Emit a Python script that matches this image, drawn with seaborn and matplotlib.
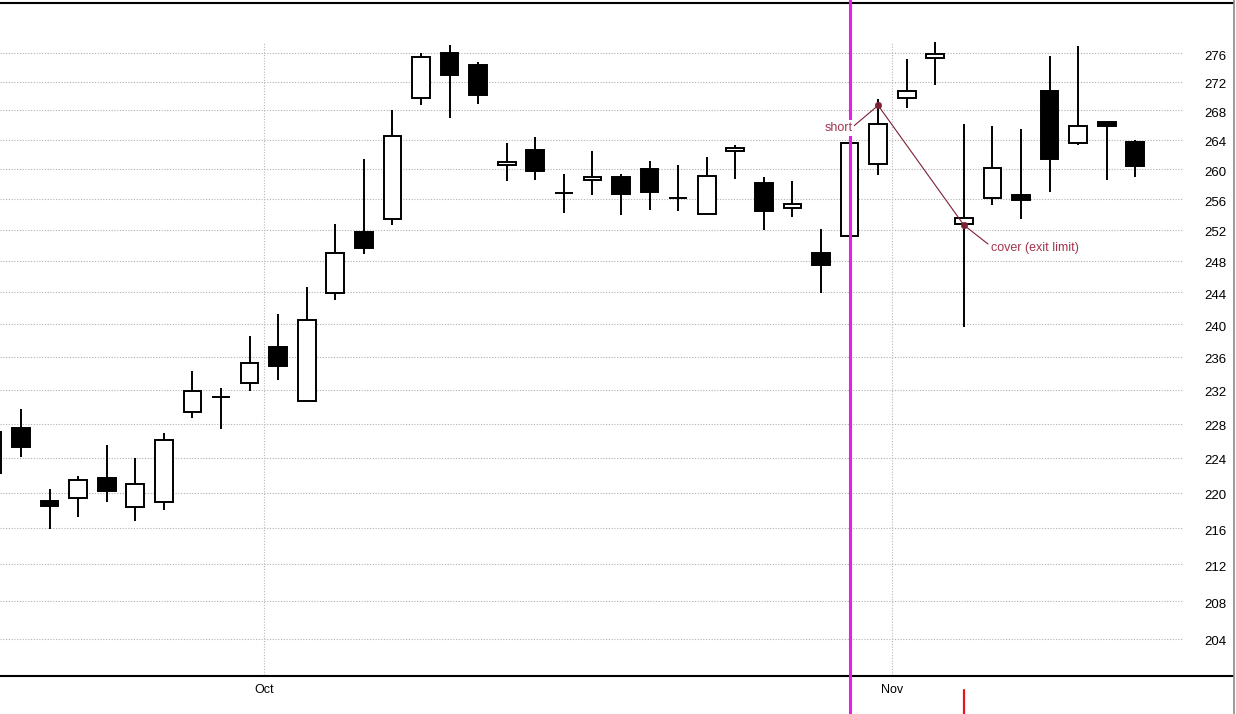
import numpy as np
import matplotlib
matplotlib.use('Agg')
import matplotlib.pyplot as plt
from matplotlib.lines import Line2D
from matplotlib.ticker import NullLocator
from matplotlib.transforms import ScaledTranslation
import seaborn as sns

sns.set_style('white')
plt.rcParams['font.family'] = ['Liberation Sans', 'DejaVu Sans']

# ── 데이터 (일봉, 인덱스 -1 ~ 39) ───────────────────────────
opens  = [222.3, 227.5, 219.1, 219.4, 221.7, 218.4, 218.9, 229.4, 231.2, 232.8,
          237.25, 230.65, 243.85, 251.65, 253.45, 269.8, 276.0, 274.4, 260.5, 262.6,
          256.8, 258.6, 259.0, 260.0, 256.2, 254.0, 262.4, 258.1, 254.9, 249.05,
          251.2, 260.75, 269.75, 275.3, 252.7, 256.1, 256.5, 270.75, 263.6, 266.4,
          263.7]
highs  = [227.4, 229.7, 220.45, 221.9, 225.5, 224.0, 226.9, 234.3, 232.2, 238.6,
          241.25, 244.7, 252.7, 261.4, 268.1, 276.1, 277.2, 274.8, 263.5, 264.4,
          259.3, 262.4, 259.3, 261.05, 260.5, 261.7, 263.3, 259.0, 258.4, 252.05,
          263.6, 269.6, 275.2, 277.6, 266.2, 265.9, 265.5, 275.7, 277.1, 266.4,
          263.9]
lows   = [221.8, 224.15, 215.95, 217.3, 219.0, 216.8, 218.1, 228.6, 227.4, 231.9,
          233.2, 230.65, 243.0, 248.8, 252.6, 268.8, 267.0, 268.9, 258.4, 258.5,
          254.2, 256.5, 253.95, 254.6, 254.4, 254.0, 258.7, 252.0, 253.7, 243.85,
          251.2, 259.25, 268.3, 271.5, 239.7, 255.2, 253.4, 256.95, 263.3, 258.6,
          258.9]
closes = [227.0, 225.3, 218.45, 221.5, 220.15, 221.0, 226.1, 231.9, 231.2, 235.3,
          234.9, 240.5, 249.05, 249.65, 264.55, 275.5, 273.0, 270.1, 260.9, 259.8,
          256.8, 259.0, 256.7, 257.0, 256.2, 259.1, 262.8, 254.4, 255.4, 247.5,
          263.6, 266.15, 270.75, 275.9, 253.55, 260.1, 255.9, 261.4, 265.8, 265.8,
          260.4]
positions = np.arange(-1, 40)

month_pos    = [8.5, 30.5]
month_labels = ['Oct', 'Nov']
price_ticks  = list(range(204, 277, 4))

signal_pos = 29          # 보라색 세로선
exit_pos   = 33          # 하단 빨간 표시
trade_pos    = [30, 33]
trade_price  = [268.7, 252.6]
trade_labels = ['short', 'cover (exit limit)']

# ── 그림 ─────────────────────────────────────────────────
fig = plt.figure(figsize=(12.36, 7.14), dpi=100)
ax = fig.add_axes([0, (714 - 675.5) / 714, 1233 / 1236, (675.5 - 3) / 714])

ax.set_yscale('log')
ax.set_ylim(200.19, 283.29)
ax.set_xlim(-0.735, 42.42)

# 격자
x_grid_end = (1183 - 21) / 28.57
ax.hlines(price_ticks, -0.735, x_grid_end, colors='#b0b0b0',
          linestyles=(0, (1, 1.5)), linewidth=0.8, zorder=1)
ax.vlines(month_pos, 200.19, 277.64, colors='#b8b8b8',
          linestyles=(0, (1, 1.5)), linewidth=0.8, zorder=1)

# 캔들
w = 0.62
o = np.array(opens); c = np.array(closes)
ax.vlines(positions, lows, highs, colors='black', linewidth=1.4, zorder=2)
up = c >= o
bottoms = np.minimum(o, c)
heights = np.abs(c - o)
body = heights > 0
ax.bar(positions[body & up], heights[body & up], bottom=bottoms[body & up], width=w,
       facecolor='white', edgecolor='black', linewidth=1.4, zorder=3)
ax.bar(positions[body & ~up], heights[body & ~up], bottom=bottoms[body & ~up], width=w,
       facecolor='black', edgecolor='black', linewidth=1.4, zorder=3)
doji = ~body
ax.hlines(o[doji], positions[doji] - w / 2, positions[doji] + w / 2,
          colors='black', linewidth=1.4, zorder=3)

# 시그널 선
ax.axvline(signal_pos, ymin=-(714 - 675.5) / 672.5, ymax=675.5 / 672.5,
           color='#e81ee8', linewidth=2.2, clip_on=False, zorder=4)
ax.axvline(exit_pos, ymin=-(714 - 675.5) / 672.5, ymax=-(690 - 675.5) / 672.5,
           color='#e8141c', linewidth=1.6, clip_on=False, zorder=4)

# 매매 표시
tcol = '#a33650'
lcol = '#7d2034'
ax.plot(trade_pos, trade_price, color=lcol, linewidth=0.8, zorder=5)
sns.scatterplot(x=trade_pos, y=trade_price, color=lcol, s=22, edgecolor=lcol,
                zorder=6, ax=ax, legend=False)
ax.annotate(trade_labels[0], xy=(trade_pos[0], trade_price[0]), xytext=(-18.5, -16.5),
            textcoords='offset points', ha='right', va='center', fontsize=9, color=tcol,
            bbox=dict(boxstyle='square,pad=0.15', fc='white', ec='none'),
            arrowprops=dict(arrowstyle='-', color=lcol, lw=0.8, relpos=(1, 0.6),
                            shrinkA=0, shrinkB=0), zorder=7)
ax.annotate(trade_labels[1], xy=(trade_pos[1], trade_price[1]), xytext=(19.7, -16.3),
            textcoords='offset points', ha='left', va='center', fontsize=9, color=tcol,
            arrowprops=dict(arrowstyle='-', color=lcol, lw=0.8, relpos=(0, 0.6),
                            shrinkA=0, shrinkB=0), zorder=7)

# 축
ax.yaxis.tick_right()
ax.set_yticks(price_ticks)
ax.set_yticklabels([str(t) for t in price_ticks])
ax.yaxis.set_minor_locator(NullLocator())
ax.tick_params(axis='y', length=0, pad=-20.7, labelsize=9.5, labelcolor='black')
shift = ScaledTranslation(0, -2 / 100, fig.dpi_scale_trans)
for lbl in ax.get_yticklabels():
    lbl.set_transform(lbl.get_transform() + shift)
ax.set_xticks(month_pos)
ax.set_xticklabels(month_labels)
ax.tick_params(axis='x', length=0, pad=6, labelsize=9, labelcolor='black')

for side in ['left', 'right']:
    ax.spines[side].set_visible(False)
for side in ['top', 'bottom']:
    ax.spines[side].set_color('black')
    ax.spines[side].set_linewidth(1.5)

fig.add_artist(Line2D([1233.5 / 1236, 1233.5 / 1236], [0, 1], color='#8a8a8a',
                      linewidth=1.2, transform=fig.transFigure))

fig.savefig('out.png', dpi=100, facecolor='white')
